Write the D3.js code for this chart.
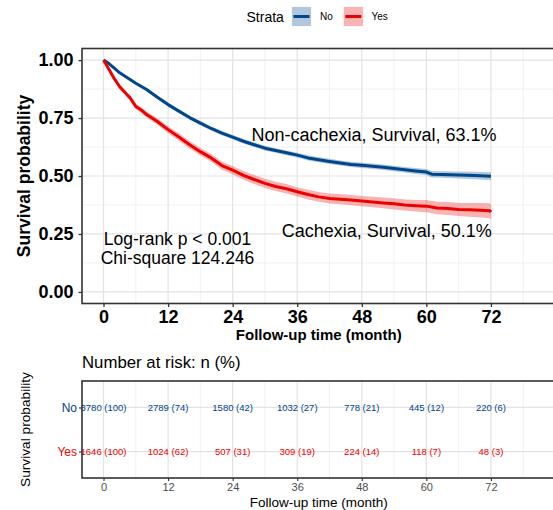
<!DOCTYPE html>
<html>
<head>
<meta charset="utf-8">
<script src="https://cdn.jsdelivr.net/npm/d3@7"></script>
<style>
html,body{margin:0;padding:0;background:#fff;}
svg{display:block;font-family:"Liberation Sans",Arial,sans-serif;}
</style>
</head>
<body>
<svg id="chart" width="553" height="510"></svg>
<script>
// ---- data ----
const strata = ["No", "Yes"];
const timeNo = [0,1,2,3,4,5,6,8,10,12,14,16,18,20,22,24,26,28,30,32,34,36,38,40,42,44,46,48,50,52,54,56,58,60,61,63,66,69,72];
const survNo = [1.00,0.985,0.965,0.945,0.930,0.915,0.900,0.873,0.840,0.808,0.780,0.752,0.728,0.705,0.685,0.668,0.650,0.635,0.620,0.610,0.600,0.590,0.578,0.570,0.563,0.556,0.550,0.546,0.542,0.538,0.532,0.527,0.522,0.517,0.508,0.506,0.504,0.502,0.499];
const ciNo   = [0,0.003,0.004,0.005,0.005,0.006,0.006,0.007,0.007,0.008,0.008,0.008,0.009,0.009,0.009,0.009,0.010,0.010,0.010,0.010,0.010,0.010,0.011,0.011,0.011,0.011,0.011,0.011,0.012,0.012,0.012,0.012,0.013,0.013,0.014,0.014,0.015,0.016,0.017];
const timeYes = [0,1,2,3,4,5,6,7,8,10,12,14,16,18,20,22,24,26,28,30,32,34,36,38,40,42,44,46,48,50,52,54,56,58,60,62,64,66,68,70,71.8,72];
const survYes = [1.00,0.960,0.920,0.885,0.860,0.835,0.800,0.785,0.765,0.735,0.700,0.668,0.635,0.605,0.578,0.545,0.525,0.503,0.485,0.468,0.455,0.445,0.432,0.420,0.410,0.403,0.400,0.396,0.392,0.388,0.384,0.380,0.375,0.372,0.370,0.362,0.360,0.356,0.354,0.352,0.350,0.344];
const ciYes   = [0,0.006,0.008,0.010,0.011,0.011,0.012,0.012,0.013,0.014,0.015,0.016,0.016,0.017,0.017,0.018,0.018,0.019,0.019,0.020,0.020,0.020,0.020,0.021,0.021,0.022,0.022,0.022,0.022,0.023,0.023,0.024,0.024,0.025,0.026,0.027,0.028,0.029,0.030,0.031,0.032,0.032];
const xTicks = [0,12,24,36,48,60,72];
const yTicks = [0,0.25,0.5,0.75,1];
const riskTimes = [0,12,24,36,48,60,72];
const nNo = [3780,2789,1580,1032,778,445,220];
const pctNo = [100,74,42,27,21,12,6];
const nYes = [1646,1024,507,309,224,118,48];
const pctYes = [100,62,31,19,14,7,3];
const labelNo = "Non-cachexia, Survival, 63.1%";
const labelYes = "Cachexia, Survival, 50.1%";
const statLines = ["Log-rank p < 0.001", "Chi-square 124.246"];

const colors = {No: "#00468B", Yes: "#ED0000"};

// ---- layout ----
const svg = d3.select("#chart");
const PL = 82, PR = 555.5;
const x = d3.scaleLinear().domain([-4, 84]).range([PL, PR]);
const y = d3.scaleLinear().domain([-0.05, 1.05]).range([303.5, 48.5]);
const minorX = d3.range(6, 84, 12);
const majorXg = d3.range(0, 85, 12);
const minorY = [0.125, 0.375, 0.625, 0.875];

// legend
const lg = svg.append("g");
lg.append("text").attr("x", 246.5).attr("y", 21.5).attr("font-size", 14).attr("fill", "#000").text("Strata");
const legItems = [{k:"No", x:291.5, tx:320},{k:"Yes", x:343.3, tx:371.5}];
legItems.forEach(d => {
  lg.append("rect").attr("x", d.x).attr("y", 6.5).attr("width", 20).attr("height", 20)
    .attr("fill", colors[d.k]).attr("fill-opacity", 0.3).attr("stroke", "#fff").attr("stroke-width", 0.8);
  lg.append("line").attr("x1", d.x + 2).attr("x2", d.x + 18).attr("y1", 16.5).attr("y2", 16.5)
    .attr("stroke", colors[d.k]).attr("stroke-width", 3);
  lg.append("text").attr("x", d.tx).attr("y", 20.3).attr("font-size", 10).attr("fill", "#000").text(d.k);
});

// main panel grid
const main = svg.append("g");
main.selectAll(".mgx").data(minorX).join("line")
  .attr("x1", d => x(d)).attr("x2", d => x(d)).attr("y1", y(1.05)).attr("y2", y(-0.05))
  .attr("stroke", "#ebebeb").attr("stroke-width", 0.7);
main.selectAll(".mgy").data(minorY).join("line")
  .attr("x1", PL).attr("x2", PR).attr("y1", d => y(d)).attr("y2", d => y(d))
  .attr("stroke", "#ebebeb").attr("stroke-width", 0.7);
main.selectAll(".Mgx").data(majorXg).join("line")
  .attr("x1", d => x(d)).attr("x2", d => x(d)).attr("y1", y(1.05)).attr("y2", y(-0.05))
  .attr("stroke", "#e3e3e3").attr("stroke-width", 1.2);
main.selectAll(".Mgy").data(yTicks).join("line")
  .attr("x1", PL).attr("x2", PR).attr("y1", d => y(d)).attr("y2", d => y(d))
  .attr("stroke", "#e3e3e3").attr("stroke-width", 1.2);

// curves
const series = [
  {k:"No", t:timeNo, s:survNo, c:ciNo},
  {k:"Yes", t:timeYes, s:survYes, c:ciYes}
];
series.forEach(se => {
  const pts = se.t.map((t,i) => ({t, s: se.s[i], lo: se.s[i]-se.c[i], hi: se.s[i]+se.c[i]}));
  main.append("path").datum(pts)
    .attr("d", d3.area().curve(d3.curveLinear).x(d => x(d.t)).y0(d => y(d.lo)).y1(d => y(d.hi)))
    .attr("fill", colors[se.k]).attr("fill-opacity", 0.3);
});
series.forEach(se => {
  const pts = se.t.map((t,i) => ({t, s: se.s[i]}));
  main.append("path").datum(pts)
    .attr("d", d3.line().curve(d3.curveLinear).x(d => x(d.t)).y(d => y(d.s)))
    .attr("fill", "none").attr("stroke", colors[se.k]).attr("stroke-width", 3).attr("stroke-linejoin", "round");
});

// annotations
main.append("text").attr("x", 374).attr("y", 141).attr("text-anchor", "middle").attr("font-size", 18).attr("fill", "#000").text(labelNo);
main.append("text").attr("x", 386.7).attr("y", 237).attr("text-anchor", "middle").attr("font-size", 18).attr("fill", "#000").text(labelYes);
main.selectAll(".stat").data(statLines).join("text")
  .attr("x", 177.5).attr("y", (d,i) => 245 + i * 18.5).attr("text-anchor", "middle").attr("font-size", 17.5).attr("fill", "#000").text(d => d);

// border
main.append("rect").attr("x", PL).attr("y", y(1.05)).attr("width", PR - PL).attr("height", y(-0.05) - y(1.05))
  .attr("fill", "none").attr("stroke", "#333").attr("stroke-width", 1.6);

// axes
const xAxis = svg.append("g").attr("transform", `translate(0,${y(-0.05)})`)
  .call(d3.axisBottom(x).tickValues(xTicks).tickSize(3.5).tickPadding(3));
xAxis.select(".domain").remove();
xAxis.selectAll("line").attr("stroke", "#333").attr("stroke-width", 1.3);
xAxis.selectAll("text").attr("font-size", 18).attr("font-weight", "bold").attr("fill", "#000").attr("font-family", "Liberation Sans, Arial, sans-serif");

const yAxis = svg.append("g").attr("transform", `translate(${PL},0)`)
  .call(d3.axisLeft(y).tickValues(yTicks).tickFormat(d3.format(".2f")).tickSize(3.5).tickPadding(5));
yAxis.select(".domain").remove();
yAxis.selectAll("line").attr("stroke", "#333").attr("stroke-width", 1.3);
yAxis.selectAll("text").attr("font-size", 18).attr("font-weight", "bold").attr("fill", "#000").attr("font-family", "Liberation Sans, Arial, sans-serif");

svg.append("text").attr("x", (PL + PR) / 2).attr("y", 339.5).attr("text-anchor", "middle")
  .attr("font-size", 15).attr("font-weight", "bold").attr("fill", "#000").text("Follow-up time (month)");
svg.append("text").attr("transform", `translate(30,${(y(1.05)+y(-0.05))/2}) rotate(-90)`).attr("text-anchor", "middle")
  .attr("font-size", 17.5).attr("font-weight", "bold").attr("fill", "#000").text("Survival probability");

// ---- risk table ----
const RT = 381, RB = 478;
svg.append("text").attr("x", 82).attr("y", 368).attr("font-size", 16.8).attr("fill", "#000").text("Number at risk: n (%)");
const yr = d3.scalePoint().domain(["No", "Yes"]).range([RT, RB]).padding(0.6);
const rt = svg.append("g");
rt.selectAll(".rgx").data(minorX).join("line")
  .attr("x1", d => x(d)).attr("x2", d => x(d)).attr("y1", RT).attr("y2", RB)
  .attr("stroke", "#ebebeb").attr("stroke-width", 0.7);
rt.selectAll(".rGx").data(majorXg).join("line")
  .attr("x1", d => x(d)).attr("x2", d => x(d)).attr("y1", RT).attr("y2", RB)
  .attr("stroke", "#e3e3e3").attr("stroke-width", 1.2);
rt.selectAll(".rgy").data(strata).join("line")
  .attr("x1", PL).attr("x2", PR).attr("y1", d => yr(d)).attr("y2", d => yr(d))
  .attr("stroke", "#e3e3e3").attr("stroke-width", 1.2);
const rows = [{k:"No", n:nNo, p:pctNo},{k:"Yes", n:nYes, p:pctYes}];
rows.forEach(r => {
  rt.selectAll(null).data(riskTimes).join("text")
    .attr("x", d => x(d)).attr("y", yr(r.k)).attr("dy", "0.35em").attr("text-anchor", "middle")
    .attr("font-size", 9.5).attr("fill", colors[r.k])
    .text((d,i) => `${r.n[i]} (${r.p[i]})`);
});
rt.append("rect").attr("x", PL).attr("y", RT).attr("width", PR - PL).attr("height", RB - RT)
  .attr("fill", "none").attr("stroke", "#333").attr("stroke-width", 1.6);

const rxAxis = svg.append("g").attr("transform", `translate(0,${RB})`)
  .call(d3.axisBottom(x).tickValues(xTicks).tickSize(3).tickPadding(2.5));
rxAxis.select(".domain").remove();
rxAxis.selectAll("line").attr("stroke", "#333").attr("stroke-width", 1.1);
rxAxis.selectAll("text").attr("font-size", 11).attr("fill", "#4d4d4d").attr("font-family", "Liberation Sans, Arial, sans-serif");

const ryAxis = svg.append("g").attr("transform", `translate(${PL},0)`)
  .call(d3.axisLeft(yr).tickSize(3).tickPadding(2));
ryAxis.select(".domain").remove();
ryAxis.selectAll("line").attr("stroke", "#333").attr("stroke-width", 1.1);
ryAxis.selectAll("text").attr("font-size", 12).attr("font-family", "Liberation Sans, Arial, sans-serif")
  .attr("fill", d => colors[d]);

svg.append("text").attr("x", (PL + PR) / 2).attr("y", 507).attr("text-anchor", "middle")
  .attr("font-size", 13.5).attr("fill", "#000").text("Follow-up time (month)");
svg.append("text").attr("transform", `translate(30,${(RT+RB)/2}) rotate(-90)`).attr("text-anchor", "middle")
  .attr("font-size", 13.7).attr("fill", "#000").text("Survival probability");
</script>
</body>
</html>
